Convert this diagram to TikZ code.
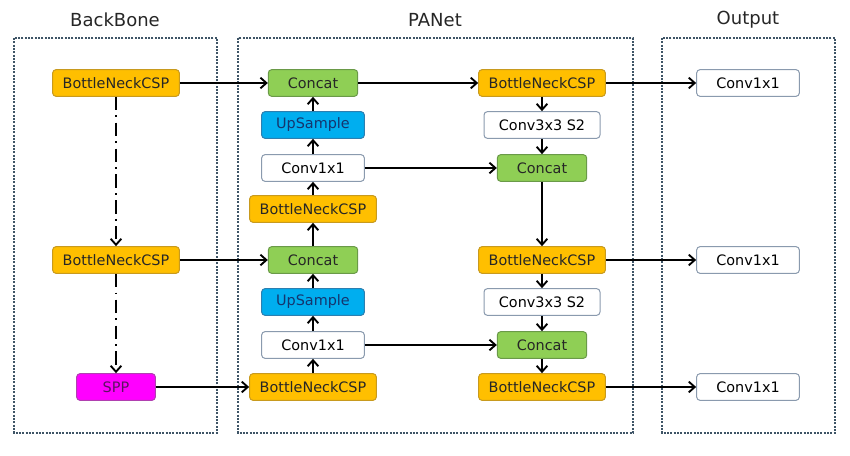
\documentclass[tikz,border=0pt]{standalone}
\usepackage{fontspec}
\setmainfont{DejaVu Sans}
\definecolor{bncfill}{HTML}{FFBF00}
\definecolor{bncline}{HTML}{C89A1E}
\definecolor{catfill}{HTML}{8FCF55}
\definecolor{catline}{HTML}{6A9A48}
\definecolor{upfill}{HTML}{00AEEF}
\definecolor{upline}{HTML}{2C7FB0}
\definecolor{uptext}{HTML}{15356E}
\definecolor{sppfill}{HTML}{FF00FF}
\definecolor{sppline}{HTML}{B040B0}
\definecolor{spptext}{HTML}{5A1460}
\definecolor{convline}{HTML}{8A9AAE}
\definecolor{framecol}{HTML}{3E5466}
\usetikzlibrary{arrows.meta}

\begin{document}
\begin{tikzpicture}[x=.75pt,y=-.75pt,
  blk/.style={draw,rounded corners=2.5pt,minimum height=20pt,inner sep=0pt,line width=.75pt,font=\fontsize{10.8}{12}\selectfont},
  bnc/.style={blk,fill=bncfill,draw=bncline,text=black!85,minimum width=95pt},
  cat/.style={blk,fill=catfill,draw=catline,text=black!85,minimum width=67pt},
  up/.style={blk,fill=upfill,draw=upline,text=uptext,minimum width=77pt},
  conv/.style={blk,fill=white,draw=convline,minimum width=77pt},
  spp/.style={blk,fill=sppfill,draw=sppline,text=spptext,minimum width=59pt},
  frame/.style={draw=framecol,line width=1.4pt,dash pattern=on 1.4pt off 1.1pt},
  title/.style={font=\fontsize{13.5}{16}\selectfont,text=black!85},
  link/.style={-{Straight Barb[length=4.5pt,width=8pt]},line width=1.4pt},
  skip/.style={link,dash pattern=on 10pt off 4pt on 1.4pt off 4pt}]
\useasboundingbox(0,0)rectangle(850,456);
\draw[frame](14,38)rectangle(217,433);\draw[frame](238,38)rectangle(633,433);\draw[frame](662,38)rectangle(835,433);
\node[title](tb)at(115,20){BackBone};\node[title](tp)at(435,20){PANet};\node[title](to)at(748,20){Output};
% backbone
\node[bnc](bb1)at(116,83){BottleNeckCSP};\node[bnc](bb2)at(116,260){BottleNeckCSP};\node[spp](sp)at(116,387){SPP};
% PANet, top-down path
\node[cat](c1)at(313,83){Concat};\node[up](u1)at(313,125){UpSample};\node[conv](v1)at(313,168){Conv1x1};
\node[bnc](b1)at(313,209){BottleNeckCSP};\node[cat](c2)at(313,260){Concat};\node[up](u2)at(313,302){UpSample};
\node[conv](v2)at(313,345){Conv1x1};\node[bnc](b2)at(313,387){BottleNeckCSP};
% PANet, bottom-up path
\node[bnc](r1)at(542,83){BottleNeckCSP};\node[conv,minimum width=87pt](s1)at(542,125){Conv3x3 S2};\node[cat](k1)at(542,168){Concat};
\node[bnc](r2)at(542,260){BottleNeckCSP};\node[conv,minimum width=87pt](s2)at(542,302){Conv3x3 S2};\node[cat](k2)at(542,345){Concat};
\node[bnc](r3)at(542,387){BottleNeckCSP};
% output
\node[conv](o1)at(748,83){Conv1x1};\node[conv](o2)at(748,260){Conv1x1};\node[conv](o3)at(748,387){Conv1x1};
\draw[skip](bb1)--(bb2);\draw[skip](bb2)--(sp);
\foreach \a/\b in {bb1/c1,bb2/c2,sp/b2,b2/v2,v2/u2,u2/c2,c2/b1,b1/v1,v1/u1,u1/c1,c1/r1,r1/s1,s1/k1,v1/k1,k1/r2,
  r2/s2,s2/k2,v2/k2,k2/r3,r1/o1,r2/o2,r3/o3}\draw[link](\a)--(\b);
\end{tikzpicture}
\end{document}
